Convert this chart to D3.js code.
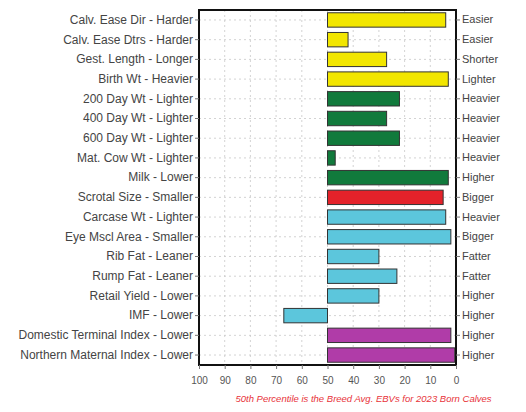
<!DOCTYPE html>
<html><head><meta charset="utf-8">
<script src="https://cdn.jsdelivr.net/npm/d3@7"></script>
<style>body{margin:0;background:#fff;}svg{display:block;}</style>
</head><body>
<script>
const traits = ["Calv. Ease Dir - Harder","Calv. Ease Dtrs - Harder","Gest. Length - Longer","Birth Wt - Heavier","200 Day Wt - Lighter","400 Day Wt - Lighter","600 Day Wt - Lighter","Mat. Cow Wt - Lighter","Milk - Lower","Scrotal Size - Smaller","Carcase Wt - Lighter","Eye Mscl Area - Smaller","Rib Fat - Leaner","Rump Fat - Leaner","Retail Yield - Lower","IMF - Lower","Domestic Terminal Index - Lower","Northern Maternal Index - Lower"];
const rightLabels = ["Easier","Easier","Shorter","Lighter","Heavier","Heavier","Heavier","Heavier","Higher","Bigger","Heavier","Bigger","Fatter","Fatter","Higher","Higher","Higher","Higher"];
const percentiles = [4,42,27,3,22,27,22,47,3,5,4,2,30,23,30,67,2,0.5];
const groups = ["yellow","yellow","yellow","yellow","green","green","green","green","green","red","cyan","cyan","cyan","cyan","cyan","cyan","magenta","magenta"];
const tickValues = [100,90,80,70,60,50,40,30,20,10,0];
const caption = "50th Percentile is the Breed Avg. EBVs for 2023 Born Calves";
const colors = {yellow:"#f2e600", green:"#117a3c", red:"#e4222a", cyan:"#5cc6dc", magenta:"#b03ca8"};

const W=526,H=412;
const L=199,R=456,T=10,B=365;
const FONT="Liberation Sans, Arial, sans-serif";
const svg=d3.select("body").append("svg").attr("width",W).attr("height",H);
const x=d3.scaleLinear().domain([100,0]).range([L,R]);
const y=d3.scaleBand().domain(traits).range([T,B]).paddingInner(0.27).paddingOuter(0.14);

// grid
svg.append("g").selectAll("line.v").data(tickValues).join("line")
  .attr("x1",d=>x(d)).attr("x2",d=>x(d)).attr("y1",T).attr("y2",B)
  .attr("stroke","#c8c8c8").attr("stroke-dasharray","2,3").attr("stroke-width",0.8);
svg.append("g").selectAll("line.h").data(traits).join("line")
  .attr("x1",L).attr("x2",R).attr("y1",d=>y(d)+y.bandwidth()/2).attr("y2",d=>y(d)+y.bandwidth()/2)
  .attr("stroke","#c8c8c8").attr("stroke-dasharray","2,3").attr("stroke-width",0.8);

// bars
svg.append("g").selectAll("rect").data(traits).join("rect")
  .attr("x",(d,i)=>Math.min(x(50),x(percentiles[i])))
  .attr("width",(d,i)=>Math.abs(x(percentiles[i])-x(50)))
  .attr("y",d=>y(d)).attr("height",y.bandwidth())
  .attr("fill",(d,i)=>colors[groups[i]]).attr("stroke","#333").attr("stroke-width",1);

// frame
svg.append("rect").attr("x",L).attr("y",T).attr("width",R-L).attr("height",B-T)
  .attr("fill","none").attr("stroke","#111").attr("stroke-width",2);

// left axis
const la=svg.append("g").attr("transform",`translate(${L},0)`)
  .call(d3.axisLeft(y).tickSize(4).tickPadding(2));
la.select(".domain").remove();
la.selectAll("line").attr("stroke","#777");
la.selectAll("text").attr("font-family",FONT).attr("font-size","12px").attr("fill","#444");

// right axis
const ra=svg.append("g").attr("transform",`translate(${R},0)`)
  .call(d3.axisRight(y).tickSize(4).tickPadding(2).tickFormat((d,i)=>rightLabels[i]));
ra.select(".domain").remove();
ra.selectAll("line").attr("stroke","#777");
ra.selectAll("text").attr("font-family",FONT).attr("font-size","11px").attr("fill","#444");

// bottom axis
const ba=svg.append("g").attr("transform",`translate(0,${B})`)
  .call(d3.axisBottom(x).tickValues(tickValues).tickSize(4).tickPadding(8));
ba.select(".domain").remove();
ba.selectAll("line").attr("stroke","#777");
ba.selectAll("text").attr("font-family",FONT).attr("font-size","10px").attr("fill","#555");

svg.append("text").attr("x",x(50)+36).attr("y",402).attr("text-anchor","middle")
  .attr("font-family",FONT).attr("font-size","9.5px").attr("font-style","italic")
  .attr("fill","#e8333a").text(caption);
</script>
</body></html>
